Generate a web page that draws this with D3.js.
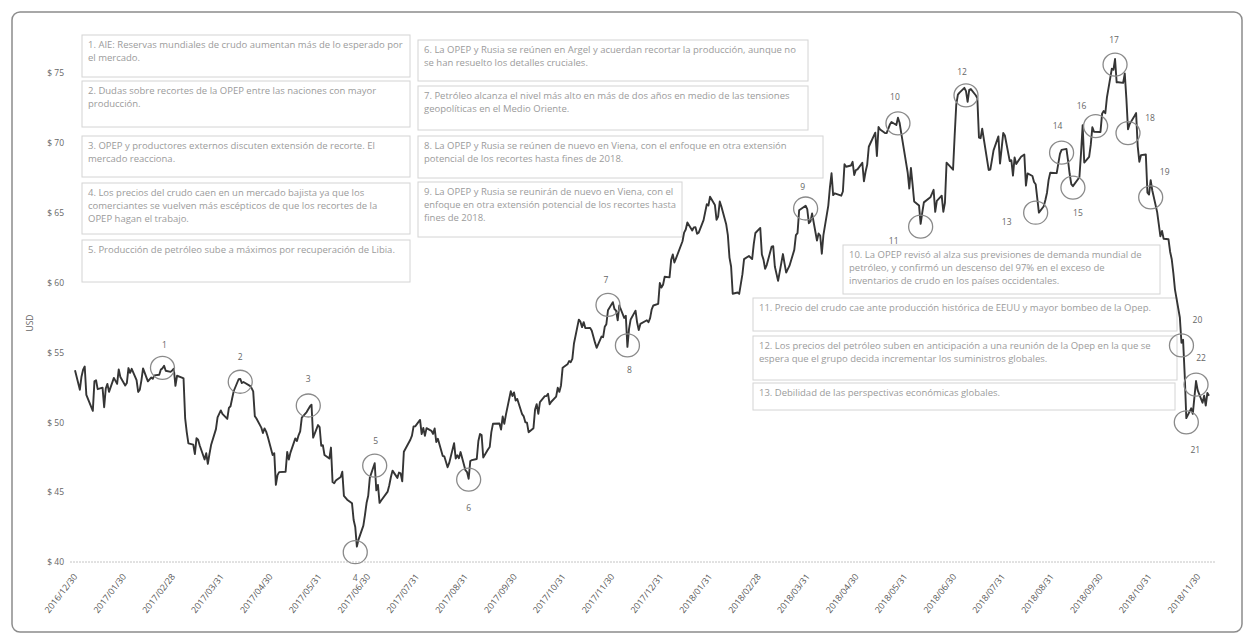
<!DOCTYPE html>
<html>
<head>
<meta charset="utf-8">
<script src="https://cdn.jsdelivr.net/npm/d3@7"></script>
<style>
  body { margin: 0; background: #fff; }
  text { font-family: "Open Sans", "Liberation Sans", sans-serif; }
</style>
</head>
<body>
<div id="chart"></div>
<script>
// precios de cierre (USD), un array por mes
var close2016 = [53.72]; // 2016-12-30
var closes2017 = [
  [52.33, 53.26, 53.76, 53.99, 51.96, 50.82, 52.93, 53.01, 52.37, 52.48, 51.08, 52.42, 52.75, 52.18, 53.18, 52.75, 53.78, 53.24, 52.63, 52.81],
  [53.88, 53.54, 53.83, 53.01, 52.17, 52.34, 53.00, 53.86, 52.93, 53.20, 53.11, 53.36, 53.40, 53.78, 53.86, 54.05, 53.69, 53.61, 53.71],
  [53.83, 52.61, 53.33, 53.20, 53.14, 50.28, 49.28, 48.49, 48.40, 47.72, 48.86, 48.75, 48.34, 47.34, 47.79, 47.02, 47.73, 48.37, 49.51, 50.35, 50.60, 50.85, 50.60],
  [50.24, 51.03, 51.15, 51.70, 52.24, 53.08, 53.10, 52.81, 52.88, 52.61, 52.45, 52.21, 50.44, 50.27, 49.62, 49.23, 49.56, 49.33, 48.97],
  [47.66, 47.79, 45.52, 46.22, 46.43, 46.46, 47.88, 47.33, 47.83, 48.85, 48.66, 49.07, 49.35, 50.33, 50.73, 51.13, 51.26, 48.90, 49.80, 49.66, 48.32],
  [48.36, 47.66, 47.40, 48.19, 45.72, 45.64, 45.83, 46.08, 46.46, 44.73, 44.46, 44.20, 43.00, 42.50, 41.10, 41.60, 42.60, 43.38, 44.24, 44.74, 46.04],
  [47.07, 45.13, 45.52, 44.23, 44.40, 45.04, 45.49, 46.08, 46.54, 46.02, 46.40, 46.34, 45.77, 47.89, 48.75, 49.04, 49.71, 49.71, 50.17],
  [49.16, 49.59, 49.03, 49.58, 49.39, 49.17, 49.56, 48.59, 48.82, 47.59, 47.55, 46.78, 47.09, 48.51, 47.41, 47.64, 47.43, 47.87, 46.57, 46.44, 45.96, 47.23],
  [47.29, 47.37, 48.66, 49.16, 49.09, 47.48, 48.07, 48.23, 49.30, 49.89, 49.91, 49.48, 50.41, 49.89, 50.55, 52.22, 51.88, 52.14, 51.56, 51.67],
  [50.58, 50.42, 50.00, 49.98, 49.29, 49.58, 50.92, 51.30, 50.60, 51.45, 51.87, 51.88, 52.04, 51.29, 51.47, 51.84, 52.47, 52.18, 52.64, 53.90, 54.15, 54.38],
  [54.30, 54.54, 55.64, 57.35, 57.20, 56.81, 57.17, 56.74, 56.76, 56.55, 55.70, 55.33, 56.14, 56.09, 56.83, 57.02, 58.02, 58.60, 58.11, 57.99, 57.30],
  [58.36, 57.47, 57.62, 55.40, 56.69, 57.36, 57.99, 57.14, 56.60, 57.04, 57.30, 57.16, 57.46, 58.09, 58.36, 58.47, 59.97, 59.64, 59.84, 60.42]
];
var closes2018 = [
  [60.37, 61.63, 62.01, 61.44, 61.73, 62.96, 63.57, 63.80, 64.30, 63.73, 63.95, 63.97, 63.49, 63.57, 64.47, 65.61, 65.51, 66.14, 65.56, 64.50, 64.73],
  [65.80, 65.45, 64.15, 63.39, 61.79, 61.15, 59.20, 59.29, 59.19, 60.60, 61.68, 61.90, 61.79, 61.68, 62.77, 63.55, 63.91, 62.01, 61.64],
  [60.99, 61.25, 62.57, 62.60, 61.15, 60.12, 62.04, 61.36, 60.71, 60.96, 61.19, 62.34, 63.40, 63.54, 65.17, 65.50, 65.25, 64.25, 64.38, 64.94],
  [63.01, 63.51, 63.37, 62.06, 63.42, 65.51, 66.82, 67.82, 66.26, 66.39, 66.22, 66.52, 68.47, 68.29, 68.38, 68.64, 67.70, 68.05, 68.10, 68.57],
  [67.25, 67.93, 68.43, 69.72, 70.73, 69.06, 71.14, 70.96, 70.70, 70.70, 71.31, 71.49, 71.28, 71.80, 71.44, 70.71, 67.88, 66.73, 68.21, 67.04],
  [65.81, 65.52, 64.20, 65.00, 65.74, 66.10, 66.36, 66.64, 65.06, 65.85, 66.22, 65.07, 65.71, 68.58, 68.08, 70.53, 72.76, 73.45, 73.60],
  [73.94, 73.70, 72.94, 73.80, 73.85, 73.41, 73.20, 70.38, 70.33, 71.01, 68.06, 68.08, 68.76, 69.46, 70.46, 68.52, 69.61, 70.71, 70.53, 68.69, 68.76],
  [67.66, 68.96, 68.49, 69.01, 69.17, 66.94, 67.81, 67.63, 67.20, 67.04, 65.01, 65.46, 65.91, 66.43, 67.35, 67.86, 67.83, 68.53, 69.21, 69.50],
  [69.57, 68.72, 67.77, 67.05, 66.90, 67.54, 69.25, 71.26, 68.59, 68.99, 69.85, 71.12, 70.80, 70.78, 72.08, 72.28, 72.12, 73.25],
  [75.30, 75.23, 76.00, 74.33, 74.34, 74.29, 74.96, 73.17, 70.97, 71.34, 71.92, 72.13, 69.75, 68.65, 69.12, 69.17, 66.43, 66.30, 67.33, 66.59, 65.04, 64.18, 63.31],
  [63.69, 63.14, 63.10, 62.21, 61.67, 60.67, 59.50, 57.50, 55.69, 55.90, 53.40, 50.30, 51.00, 50.60, 51.80, 52.95, 52.30, 51.40, 51.90, 51.20, 52.10, 51.90]
];

var tickDates = ["2016-12-30", "2017-01-30", "2017-02-28", "2017-03-31", "2017-04-30", "2017-05-31",
  "2017-06-30", "2017-07-31", "2017-08-31", "2017-09-30", "2017-10-31", "2017-11-30",
  "2017-12-31", "2018-01-31", "2018-02-28", "2018-03-31", "2018-04-30", "2018-05-31",
  "2018-06-30", "2018-07-31", "2018-08-31", "2018-09-30", "2018-10-31", "2018-11-30"];
var yTicks = [40, 45, 50, 55, 60, 65, 70, 75];

// eventos marcados con circulos
var markerDates = ["2017-02-22", "2017-04-11", "2017-05-23", "2017-06-21", "2017-07-03", "2017-08-30",
  "2017-11-24", "2017-12-06", "2018-03-26", "2018-05-22", "2018-06-05", "2018-07-03",
  "2018-08-15", "2018-08-31", "2018-09-07", "2018-09-21", "2018-10-03", "2018-10-11",
  "2018-10-25", "2018-11-13", "2018-11-16", "2018-11-22"];
var markerValues = [53.9, 52.9, 51.2, 40.7, 46.9, 45.9, 58.4, 55.5, 65.3, 71.4, 64.0, 73.4,
  65.0, 69.3, 66.8, 71.2, 75.6, 70.7, 66.1, 55.5, 50.0, 52.7];

var notes = [
  ["1. AIE: Reservas mundiales de crudo aumentan más de lo esperado por", "el mercado."],
  ["2. Dudas sobre recortes de la OPEP entre las naciones con mayor", "producción."],
  ["3. OPEP y productores externos discuten extensión de recorte. El", "mercado reacciona."],
  ["4. Los precios del crudo caen en un mercado bajista ya que los", "comerciantes se vuelven más escépticos de que los recortes de la", "OPEP hagan el trabajo."],
  ["5. Producción de petróleo sube a máximos por recuperación de Libia."],
  ["6. La OPEP y Rusia se reúnen en Argel y acuerdan recortar la producción, aunque no", "se han resuelto los detalles cruciales."],
  ["7. Petróleo alcanza el nivel más alto en más de dos años en medio de las tensiones", "geopolíticas en el Medio Oriente."],
  ["8. La OPEP y Rusia se reúnen de nuevo en Viena, con el enfoque en otra extensión", "potencial de los recortes hasta fines de 2018."],
  ["9. La OPEP y Rusia se reunirán de nuevo en Viena, con el", "enfoque en otra extensión potencial de los recortes hasta", "fines de 2018."],
  ["10. La OPEP revisó al alza sus previsiones de demanda mundial de", "petróleo, y confirmó un descenso del 97% en el exceso de", "inventarios de crudo en los países occidentales."],
  ["11. Precio del crudo cae ante producción histórica de EEUU y mayor bombeo de la Opep."],
  ["12. Los precios del petróleo suben en anticipación a una reunión de la Opep en la que se", "espera que el grupo decida incrementar los suministros globales."],
  ["13. Debilidad de las perspectivas económicas globales."]
];

// ---- armar la serie ----
var parse = d3.timeParse("%Y-%m-%d");
var data = [{ date: parse("2016-12-30"), value: close2016[0] }];

function addMonths(year, months) {
  months.forEach(function (vals, m) {
    // dias habiles del mes, repartidos entre los cierres disponibles
    var days = d3.timeDays(new Date(year, m, 1), new Date(year, m + 1, 1))
      .filter(function (d) { return d.getDay() !== 0 && d.getDay() !== 6; });
    var n = vals.length;
    vals.forEach(function (v, i) {
      var idx = n > 1 ? Math.round(i * (days.length - 1) / (n - 1)) : 0;
      data.push({ date: days[idx], value: v });
    });
  });
}
addMonths(2017, closes2017);
addMonths(2018, closes2018);

// ---- svg ----
var W = 1254, H = 642;
var svg = d3.select("#chart").append("svg")
  .attr("width", W).attr("height", H);

svg.append("rect")
  .attr("x", 12).attr("y", 12).attr("width", 1230).attr("height", 620)
  .attr("rx", 8)
  .attr("fill", "#fff").attr("stroke", "#8c8c8c").attr("stroke-width", 1.5);

var x = d3.scaleTime()
  .domain([parse("2016-12-30"), parse("2018-11-30")])
  .range([75, 1209]);
var y = d3.scaleLinear().domain([40, 75]).range([562, 73]);

// eje x: etiquetas a intervalos regulares
var xLabels = d3.scalePoint().domain(tickDates).range([75, 1198]);
var xAxis = svg.append("g")
  .attr("transform", "translate(0,562)")
  .call(d3.axisBottom(xLabels)
    .tickSize(0)
    .tickFormat(function (d) { return d.replace(/-/g, "/"); }));
xAxis.select(".domain")
  .attr("d", "M70,0H1215")
  .attr("stroke", "#c4c4c4").attr("stroke-dasharray", "2,1");
xAxis.selectAll("text")
  .attr("font-size", 8.8).attr("fill", "#555")
  .attr("text-anchor", "end")
  .attr("dy", 0).attr("dx", 0)
  .attr("transform", "translate(0,13) rotate(-52)");

// eje y
var yAxis = svg.append("g")
  .attr("transform", "translate(64,0)")
  .call(d3.axisLeft(y).tickValues(yTicks).tickSize(0)
    .tickFormat(function (d) { return "$ " + d; }));
yAxis.select(".domain").remove();
yAxis.selectAll("text").attr("font-size", 8.5).attr("fill", "#666").attr("x", 0);

svg.append("text")
  .attr("transform", "translate(33,323) rotate(-90)")
  .attr("text-anchor", "middle")
  .attr("font-size", 8.5).attr("fill", "#666")
  .text("USD");

// recuadros de notas
var noteBoxes = [
  [82, 35, 328, 42], [82, 81, 328, 46], [82, 136, 328, 41], [82, 183, 328, 51], [82, 240, 328, 42],
  [418, 40, 390, 41], [418, 86, 390, 44], [418, 136, 405, 42], [418, 182, 264, 55],
  [843, 245, 317, 49], [753, 298, 424, 33], [753, 336, 424, 44], [753, 383, 422, 27]
];
notes.forEach(function (lines, i) {
  var b = noteBoxes[i];
  var g = svg.append("g").attr("transform", "translate(" + b[0] + "," + b[1] + ")");
  g.append("rect")
    .attr("width", b[2]).attr("height", b[3])
    .attr("fill", "#fff").attr("stroke", "#d4d4d4");
  g.selectAll("text").data(lines).enter().append("text")
    .attr("x", 6).attr("y", function (d, j) { return 13 + j * 13; })
    .attr("font-size", 9.5).attr("fill", "#9b9b9b")
    .text(function (d) { return d; })
    .each(function () {
      // que no se salga del recuadro
      var maxW = b[2] - 12;
      if (this.getComputedTextLength() > maxW) {
        d3.select(this).attr("textLength", maxW).attr("lengthAdjust", "spacingAndGlyphs");
      }
    });
});

// linea de precio
svg.append("path")
  .datum(data)
  .attr("fill", "none")
  .attr("stroke", "#353535")
  .attr("stroke-width", 1.9)
  .attr("stroke-linejoin", "round")
  .attr("d", d3.line()
    .x(function (d) { return x(d.date); })
    .y(function (d) { return y(d.value); }));

// circulos y numeros
var labelOffsets = [
  [2, -23], [0, -25], [0, -27], [0, 26], [1, -25], [0, 28], [-2, -25], [2, 25], [-3, -22], [-3, -26],
  [-27, 14], [-4, -23], [-29, 9], [-4, -27], [5, 25], [-14, -20], [-1, -25], [22, -15], [14, -25],
  [16, -25], [9, 28], [5, -27]
];
markerDates.forEach(function (ds, i) {
  var cx = x(parse(ds)), cy = y(markerValues[i]);
  svg.append("ellipse")
    .attr("cx", cx).attr("cy", cy).attr("rx", 12).attr("ry", 11.5)
    .attr("fill", "none").attr("stroke", "#8a8a8a").attr("stroke-width", 1.3);
  svg.append("text")
    .attr("x", cx + labelOffsets[i][0]).attr("y", cy + labelOffsets[i][1] + 3)
    .attr("text-anchor", "middle")
    .attr("font-size", 8.5).attr("fill", "#666")
    .text(i + 1);
});
</script>
</body>
</html>
